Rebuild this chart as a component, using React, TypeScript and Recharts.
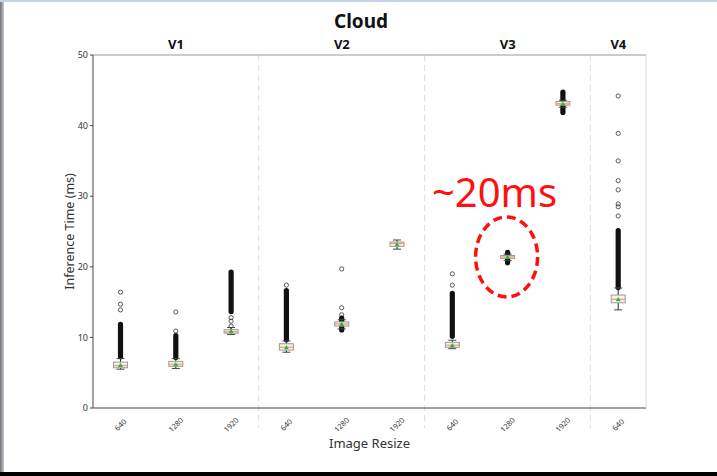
import { ComposedChart, Bar, XAxis, YAxis, Label } from 'recharts'

// Cloud inference time per model version / image resize
const sizes = ['640', '1280', '1920', '640', '1280', '1920', '640', '1280', '1920', '640']
const versions = ['V1', 'V1', 'V1', 'V2', 'V2', 'V2', 'V3', 'V3', 'V3', 'V4']
const whiskerLow = [5.5, 5.6, 10.4, 7.9, 11.2, 22.5, 8.4, 20.9, 42.6, 13.9]
const q1 = [5.7, 5.9, 10.6, 8.2, 11.6, 22.9, 8.6, 21.2, 42.9, 14.9]
const median = [6.0, 6.2, 10.8, 8.6, 11.9, 23.3, 8.9, 21.4, 43.1, 15.4]
const q3 = [6.5, 6.6, 11.1, 9.1, 12.2, 23.5, 9.3, 21.6, 43.4, 16.0]
const whiskerHigh = [7.0, 7.0, 11.4, 9.5, 12.5, 23.8, 9.6, 21.8, 43.6, 17.0]
const mean = [6.1, 6.2, 10.9, 8.6, 11.9, 23.2, 8.9, 21.4, 43.1, 15.4]
// dense runs of outliers, drawn as a solid column
const denseLow = [7.2, 7.1, 13.6, 9.6, 11.0, null, 10.1, 20.5, 41.8, 17.0]
const denseHigh = [11.9, 10.3, 19.3, 16.7, 12.8, null, 16.3, 22.1, 44.8, 25.2]
const outliers = [
  [13.9, 14.7, 16.4],
  [10.9, 13.6],
  [11.6, 12.3, 12.8],
  [17.4],
  [13.2, 14.2, 19.7],
  [],
  [17.4, 19.0],
  [],
  [],
  [27.2, 28.5, 28.9, 30.9, 32.2, 35.0, 38.9, 44.2],
]
const highlightVersion = 'V3'
const highlightSize = '1280'
const annotation = '~20ms'
const yTicks = [0, 10, 20, 30, 40, 50]

const data = sizes.map((size, i) => {
  const vals = [whiskerLow[i], whiskerHigh[i], ...outliers[i]]
  if (denseLow[i] != null) vals.push(denseLow[i] as number, denseHigh[i] as number)
  const first = versions.indexOf(versions[i])
  const last = versions.lastIndexOf(versions[i])
  return {
    id: versions[i] + '-' + size,
    size,
    version: versions[i],
    groupEnd: i < sizes.length - 1 && versions[i + 1] !== versions[i],
    groupMid: first + Math.floor((last - first) / 2) === i,
    highlight: versions[i] === highlightVersion && size === highlightSize,
    range: [Math.min(...vals), Math.max(...vals)],
    wlo: whiskerLow[i],
    q1: q1[i],
    med: median[i],
    q3: q3[i],
    whi: whiskerHigh[i],
    mean: mean[i],
    dlo: denseLow[i],
    dhi: denseHigh[i],
    out: outliers[i],
  }
})

const FONT = '"Noto Sans", "Open Sans", sans-serif'

function BoxShape(props: any) {
  const { x, y, width, height, payload } = props
  const top = Math.min(y, y + height)
  const h = Math.abs(height)
  const [lo, hi] = payload.range
  const py = (v: number) => top + (h * (hi - v)) / (hi - lo)
  const cx = x + width / 2
  const bw = 14
  return (
    <g>
      {payload.groupEnd && (
        <line x1={x + width} x2={x + width} y1={py(50)} y2={py(0) + 20} stroke="#e2e2e2" strokeWidth={1.2} strokeDasharray="6 4" />
      )}
      {payload.out.map((v: number, k: number) => (
        <circle key={k} cx={cx} cy={py(v)} r={2.1} fill="none" stroke="#333" strokeWidth={0.8} />
      ))}
      {payload.dlo != null && (
        <rect x={cx - 2.6} y={py(payload.dhi) - 2.2} width={5.2} height={py(payload.dlo) - py(payload.dhi) + 4.4} rx={2.6} fill="#111" />
      )}
      <line x1={cx} x2={cx} y1={py(payload.whi)} y2={py(payload.q3)} stroke="#222" strokeWidth={1} />
      <line x1={cx} x2={cx} y1={py(payload.q1)} y2={py(payload.wlo)} stroke="#222" strokeWidth={1} />
      <line x1={cx - 4} x2={cx + 4} y1={py(payload.whi)} y2={py(payload.whi)} stroke="#444" strokeWidth={1} />
      <line x1={cx - 4} x2={cx + 4} y1={py(payload.wlo)} y2={py(payload.wlo)} stroke="#444" strokeWidth={1} />
      <rect x={cx - bw / 2} y={py(payload.q3)} width={bw} height={py(payload.q1) - py(payload.q3)} fill="#f3f3ec" stroke="#999" strokeWidth={1} />
      <line x1={cx - bw / 2} x2={cx + bw / 2} y1={py(payload.med)} y2={py(payload.med)} stroke="#f0a060" strokeWidth={1.2} />
      <path d={`M${cx - 2.5},${py(payload.mean) + 2} L${cx + 2.5},${py(payload.mean) + 2} L${cx},${py(payload.mean) - 2.2} Z`} fill="#3cb043" />
      {payload.highlight && (
        <g>
          <ellipse cx={cx - 1} cy={py(payload.med)} rx={31} ry={40} fill="none" stroke="#ff1010" strokeWidth={3.5} strokeDasharray="9 5" />
          <text x={cx - 13} y={py(payload.med) - 50} textAnchor="middle" fill="#ff1010" fontSize={40} fontFamily={FONT}>
            {annotation}
          </text>
        </g>
      )}
    </g>
  )
}

function SizeTick(props: any) {
  const { x, y, payload } = props
  const row = data.find((d) => d.id === payload.value)
  return (
    <g transform={`translate(${x},${y + 9}) rotate(-45)`}>
      <text x={0} y={0} dy={2.5} textAnchor="middle" fontSize={7.5} fill="#333" fontFamily={FONT}>
        {row ? row.size : ''}
      </text>
    </g>
  )
}

export default function App() {
  return (
    <div style={{ position: 'relative', width: 717, height: 476, background: '#fff', overflow: 'hidden', fontFamily: FONT }}>
      <style>{`body{margin:0}`}</style>
      <div style={{ position: 'absolute', left: 0, top: 0, width: 4, height: 472, background: 'linear-gradient(to right, #6f7178, #c9cbd0)' }} />
      <div style={{ position: 'absolute', left: 0, top: 0, width: 717, height: 2, background: '#c6d2e6' }} />
      <div style={{ position: 'absolute', left: 0, top: 472, width: 717, height: 4, background: '#000' }} />
      <div style={{ position: 'absolute', left: 0, top: 8, width: 722, textAlign: 'center', fontSize: 19, fontWeight: 700, color: '#111' }}>
        Cloud
      </div>
      <ComposedChart
        width={717}
        height={476}
        data={data}
        margin={{ top: 35, right: 70, bottom: 20, left: 0 }}
        barCategoryGap={0}
        barGap={0}
      >
        <XAxis
          xAxisId="bottom"
          dataKey="id"
          height={48}
          tick={<SizeTick />}
          tickLine={false}
          axisLine={{ stroke: '#444' }}
          interval={0}
        >
          <Label value="Image Resize" position="insideBottom" offset={8} fill="#333" fontSize={13} fontFamily={FONT} />
        </XAxis>
        <XAxis
          xAxisId="top"
          dataKey="id"
          orientation="top"
          height={20}
          tickLine={false}
          tickSize={0}
          tickMargin={6}
          interval={0}
          axisLine={{ stroke: '#999' }}
          tickFormatter={(v: string) => {
            const row = data.find((d) => d.id === v)
            return row && row.groupMid ? row.version : ''
          }}
          tick={{ fontSize: 13, fontWeight: 700, fill: '#111', fontFamily: FONT }}
        />
        <YAxis
          yAxisId="left"
          domain={[0, 50]}
          ticks={yTicks}
          width={93}
          tickSize={3}
          tickMargin={2}
          axisLine={{ stroke: '#444' }}
          tickLine={{ stroke: '#444' }}
          tick={{ fontSize: 9, fill: '#333', fontFamily: FONT }}
        >
          <Label value="Inference Time (ms)" angle={-90} position="insideLeft" offset={70} style={{ textAnchor: 'middle' }} fill="#333" fontSize={12.5} fontFamily={FONT} />
        </YAxis>
        <YAxis yAxisId="right" orientation="right" domain={[0, 50]} width={1} tick={false} tickLine={false} axisLine={{ stroke: '#ddd' }} />
        <Bar xAxisId="bottom" yAxisId="left" dataKey="range" shape={<BoxShape />} isAnimationActive={false} />
      </ComposedChart>
    </div>
  )
}
